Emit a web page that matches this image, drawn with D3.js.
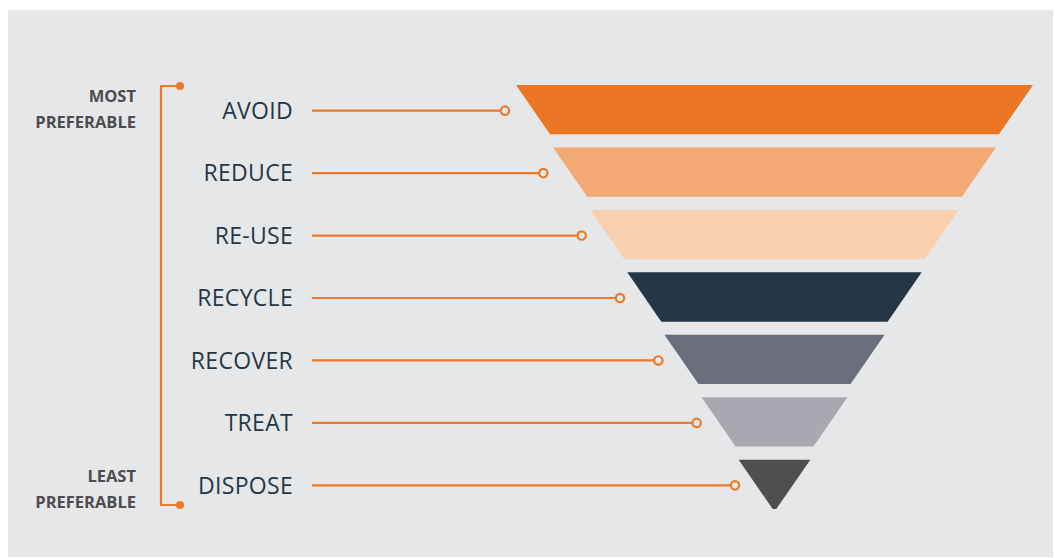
<!DOCTYPE html>
<html>
<head>
<meta charset="utf-8">
<script src="https://cdn.jsdelivr.net/npm/d3@7"></script>
<style>
  body { margin: 0; background: #fff; }
  svg { display: block; }
</style>
</head>
<body>
<div id="chart"></div>
<script>
// waste hierarchy, most preferable first
const levels = ["AVOID", "REDUCE", "RE-USE", "RECYCLE", "RECOVER", "TREAT", "DISPOSE"];
const levelColors = ["#eb7725", "#f3a973", "#f9d1b1", "#243746", "#6a6d7a", "#a8a9b0", "#4f4f51"];
const topLabel = ["MOST", "PREFERABLE"];
const bottomLabel = ["LEAST", "PREFERABLE"];

const width = 1055, height = 558;
const orange = "#ec7a2a", bg = "#e6e7e9";

const svg = d3.select("#chart").append("svg")
  .attr("width", width)
  .attr("height", height);

svg.append("rect")
  .attr("x", 8).attr("y", 10)
  .attr("width", 1045).attr("height", 547)
  .attr("fill", bg);

// vertical position of each band
const y = d3.scaleBand()
  .domain(levels)
  .range([85, 509])
  .paddingInner(0.21)
  .paddingOuter(0);

// half width of the funnel at a given y (top edges of the bands)
const halfW = d3.scaleLinear()
  .domain([85, 520])
  .range([258.5, 0]);

const cx = 774.5;
const sideSlope = 0.69; // dx per dy along a band's side

// where the connector dots sit
const dotX = d3.scaleLinear()
  .domain([0, levels.length - 1])
  .range([505, 735]);

const bands = svg.append("g");
levels.forEach((name, i) => {
  const y0 = y(name), y1 = y0 + y.bandwidth();
  const t = halfW(y0);
  const b = Math.max(0, t - sideSlope * y.bandwidth());
  const pts = [[cx - t, y0], [cx + t, y0], [cx + b, y1], [cx - b, y1]];
  bands.append("path")
    .attr("d", d3.line()(pts) + "Z")
    .attr("fill", levelColors[i]);
});

// labels and connectors
const rows = svg.append("g");
levels.forEach((name, i) => {
  const yc = y(name) + y.bandwidth() / 2 + 1;
  rows.append("text")
    .attr("x", 293)
    .attr("y", yc)
    .attr("dy", "0.36em")
    .attr("text-anchor", "end")
    .attr("font-family", "'Open Sans', sans-serif")
    .attr("font-size", 23)
    .attr("letter-spacing", 0.3)
    .attr("fill", "#253746")
    .text(name);

  rows.append("line")
    .attr("x1", 312).attr("x2", dotX(i) - 4.5)
    .attr("y1", yc).attr("y2", yc)
    .attr("stroke", orange)
    .attr("stroke-width", 2.2);

  rows.append("circle")
    .attr("cx", dotX(i)).attr("cy", yc)
    .attr("r", 4.2)
    .attr("fill", bg)
    .attr("stroke", orange)
    .attr("stroke-width", 2.2);
});

// bracket on the left
const yTop = 86, yBot = 505, bx = 161, dx = 180;
svg.append("path")
  .attr("d", `M${dx},${yTop}H${bx}V${yBot}H${dx}`)
  .attr("fill", "none")
  .attr("stroke", orange)
  .attr("stroke-width", 2.2);

[yTop, yBot].forEach(v => {
  svg.append("circle")
    .attr("cx", dx).attr("cy", v)
    .attr("r", 4)
    .attr("fill", orange);
});

function sideLabel(lines, baseY) {
  const t = svg.append("text")
    .attr("text-anchor", "end")
    .attr("font-family", "'Open Sans', sans-serif")
    .attr("font-weight", 700)
    .attr("font-size", 16.5)
    .attr("fill", "#4d4d4f");
  lines.forEach((l, i) => {
    t.append("tspan")
      .attr("x", 136)
      .attr("y", baseY + i * 25.3)
      .text(l);
  });
}
sideLabel(topLabel, 102.3);
sideLabel(bottomLabel, 482.3);
</script>
</body>
</html>
